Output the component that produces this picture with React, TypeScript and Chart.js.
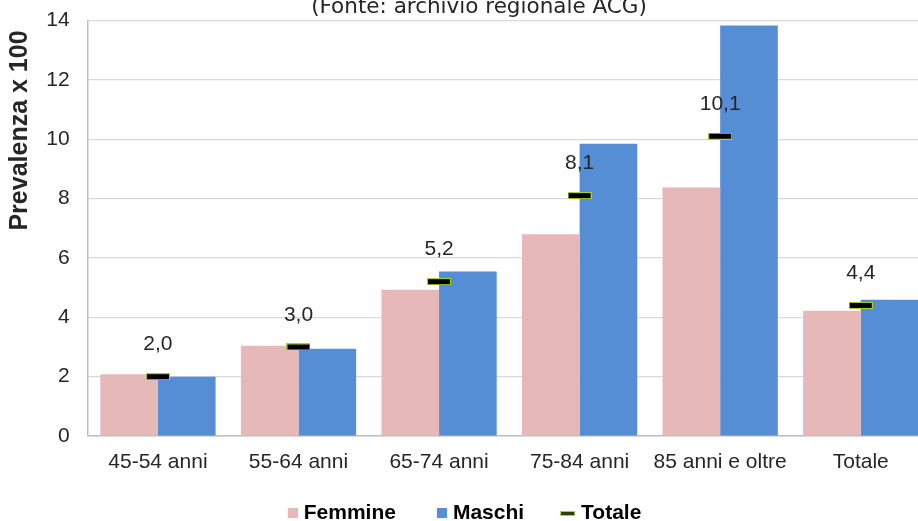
import { useEffect, useRef } from 'react';
import { Chart, registerables } from 'chart.js';

Chart.register(...registerables);

const categories = ['45-54 anni', '55-64 anni', '65-74 anni', '75-84 anni', '85 anni e oltre', 'Totale'];
const femmine = [2.08, 3.04, 4.93, 6.8, 8.37, 4.22];
const maschi = [2.0, 2.94, 5.54, 9.85, 13.83, 4.59];
const totale = [2.0, 3.0, 5.2, 8.1, 10.1, 4.4];
const seriesNames = ['Femmine', 'Maschi', 'Totale'];
const yMin = 0;
const yMax = 14;
const yStep = 2;
const sourceNote = '(Fonte: archivio regionale ACG)';
const yAxisTitle = 'Prevalenza x 100';

const PINK = '#e6b9b8';
const BLUE = '#558ed5';
const GREEN = '#a8cf38';
const TEXT = '#262626';

const CANVAS_W = 944;
const CANVAS_H = 534;

function makeMarker(w: number, h: number): HTMLCanvasElement {
  const c = document.createElement('canvas');
  c.width = w;
  c.height = h;
  const g = c.getContext('2d')!;
  g.fillStyle = GREEN;
  g.fillRect(0, 0, w, h);
  g.fillStyle = '#000';
  g.fillRect(1, 1, w - 2, h - 2);
  return c;
}

function makeLegendSquare(color: string): HTMLCanvasElement {
  const c = document.createElement('canvas');
  c.width = 41;
  c.height = 10;
  const g = c.getContext('2d')!;
  g.fillStyle = color;
  g.fillRect(31, 0, 10, 10);
  return c;
}

function makeLegendLine(): HTMLCanvasElement {
  const c = document.createElement('canvas');
  c.width = 41;
  c.height = 10;
  const g = c.getContext('2d')!;
  g.fillStyle = GREEN;
  g.fillRect(26, 3, 15, 5);
  g.fillStyle = '#2d3a10';
  g.fillRect(27, 4, 13, 3);
  return c;
}

const fmt = (v: number) => v.toFixed(1).replace('.', ',');

export default function App() {
  const ref = useRef<HTMLCanvasElement>(null);

  useEffect(() => {
    const marker = makeMarker(24, 7);
    const legendImgs = [makeLegendSquare(PINK), makeLegendSquare(BLUE), makeLegendLine()];

    const textPlugin = {
      id: 'extraText',
      afterLayout(chart: any) {
        if (chart.legend) {
          chart.legend.left -= 69;
        }
      },
      afterDatasetsDraw(chart: any) {
        const ctx = chart.ctx;
        const meta = chart.getDatasetMeta(2);
        ctx.save();
        ctx.fillStyle = TEXT;
        ctx.font = '21px "Liberation Sans", Arial, sans-serif';
        ctx.textAlign = 'center';
        ctx.textBaseline = 'middle';
        meta.data.forEach((pt: any, i: number) => {
          ctx.fillText(fmt(totale[i]), pt.x, pt.y - 32);
        });
        ctx.restore();
      },
      afterDraw(chart: any) {
        const ctx = chart.ctx;
        ctx.save();
        ctx.fillStyle = TEXT;
        ctx.font = '21.5px "DejaVu Sans", sans-serif';
        ctx.textAlign = 'center';
        ctx.textBaseline = 'alphabetic';
        ctx.fillText(sourceNote, 479, 13);
        ctx.translate(20, 130.5);
        ctx.rotate(-Math.PI / 2);
        ctx.font = 'bold 25px "Liberation Sans", Arial, sans-serif';
        ctx.textBaseline = 'middle';
        ctx.fillText(yAxisTitle, 0, 0);
        ctx.restore();
      },
    };

    const chart = new Chart(ref.current!, {
      type: 'bar',
      data: {
        labels: categories,
        datasets: [
          {
            type: 'bar',
            label: seriesNames[0],
            data: femmine,
            backgroundColor: PINK,
            barPercentage: 1,
            categoryPercentage: 0.82,
            order: 0,
          },
          {
            type: 'bar',
            label: seriesNames[1],
            data: maschi,
            backgroundColor: BLUE,
            barPercentage: 1,
            categoryPercentage: 0.82,
            order: 0,
          },
          {
            type: 'line',
            label: seriesNames[2],
            data: totale,
            showLine: false,
            pointStyle: marker as any,
            pointRadius: 12,
            pointHoverRadius: 12,
            backgroundColor: GREEN,
            borderColor: GREEN,
            order: -1,
          } as any,
        ],
      },
      options: {
        responsive: false,
        animation: false,
        events: [],
        layout: { padding: { left: 28.3, right: 0.7, top: 20.5, bottom: 0.5 } },
        scales: {
          x: {
            grid: { display: false, drawTicks: false },
            border: { display: true, color: '#bfbfbf', width: 1.5 },
            ticks: {
              color: TEXT,
              padding: 13.4,
              maxRotation: 0,
              autoSkip: false,
              font: { family: '"Liberation Sans", Arial, sans-serif', size: 21 },
            },
            afterFit: (s: any) => {
              s.paddingLeft = 0;
              s.paddingRight = 0;
            },
          },
          y: {
            min: yMin,
            max: yMax,
            grid: { color: '#d9d9d9', lineWidth: 1.2, drawTicks: false },
            border: { display: true, color: '#bfbfbf', width: 1.5 },
            ticks: {
              stepSize: yStep,
              color: TEXT,
              padding: 18,
              font: { family: '"Liberation Sans", Arial, sans-serif', size: 21 },
            },
            afterFit: (s: any) => {
              s.paddingTop = 0;
              s.paddingBottom = 0;
              s.paddingLeft = 0;
              s.paddingRight = 0;
            },
          },
        },
        plugins: {
          tooltip: { enabled: false },
          title: { display: false },
          legend: {
            display: true,
            position: 'bottom',
            labels: {
              usePointStyle: true,
              pointStyleWidth: 32,
              boxWidth: 32,
              boxHeight: 10,
              padding: 14.5,
              color: '#000',
              font: { family: '"Liberation Sans", Arial, sans-serif', size: 21, weight: 'bold' },
              generateLabels: (c: any) => {
                const items = (Chart.defaults.plugins.legend.labels as any).generateLabels(c);
                items.sort((a: any, b: any) => a.datasetIndex - b.datasetIndex);
                return items.map((it: any) => ({
                  ...it,
                  pointStyle: legendImgs[it.datasetIndex],
                  fontColor: '#000',
                }));
              },
            },
          },
        },
      } as any,
      plugins: [textPlugin],
    });
    return () => chart.destroy();
  }, []);

  return (
    <div style={{ position: 'fixed', left: 0, top: 0, width: 918, height: 521, overflow: 'hidden', background: '#fff' }}>
      <canvas
        ref={ref}
        width={CANVAS_W}
        height={CANVAS_H}
        style={{ position: 'absolute', left: 0, top: 0, width: CANVAS_W, height: CANVAS_H, display: 'block' }}
      />
    </div>
  );
}
